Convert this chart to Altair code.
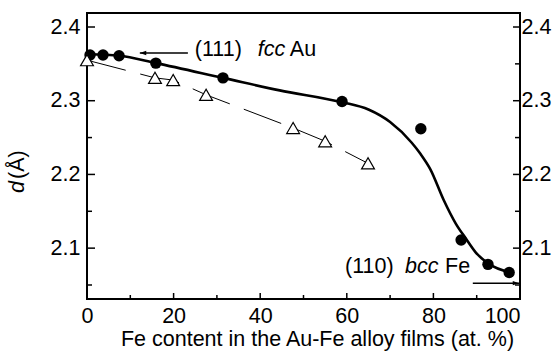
import altair as alt
import pandas as pd

# Au-Fe alloy films: (111)/(110) lattice spacing d vs Fe content
fe_circles = [0.7, 3.7, 7.4, 15.9, 31.4, 58.9, 77.1, 86.4, 92.6, 97.5]
d_circles = [2.362, 2.362, 2.361, 2.351, 2.331, 2.299, 2.262, 2.111, 2.078, 2.067]

fe_triangles = [0.0, 15.7, 19.9, 27.5, 47.6, 55.0, 64.9]
d_triangles = [2.355, 2.331, 2.328, 2.308, 2.263, 2.245, 2.215]

# smooth guide curve through the filled-circle series
fit_fe = [0.3, 7.4, 15.9, 31.4, 44.5, 58.9, 65.0, 70.0, 75.0, 77.0, 79.3,
          82.4, 85.2, 87.5, 89.8, 92.7, 97.8]
fit_d = [2.363, 2.361, 2.351, 2.331, 2.314, 2.298, 2.288, 2.271, 2.243, 2.228,
         2.207, 2.165, 2.133, 2.113, 2.094, 2.079, 2.067]

x_major = [0, 20, 40, 60, 80, 100]
x_minor = [10, 30, 50, 70, 90]
y_major = [2.1, 2.2, 2.3, 2.4]
y_minor = [2.05, 2.15, 2.25, 2.35]

# annotation anchors (data units)
fcc_text = (24.9, 2.3606)
fcc_arrow_x = [12.2, 23.3]
fcc_arrow_y = 2.3647
bcc_text = (59.6, 2.0661)
bcc_arrow_x = [89.1, 99.8]
bcc_arrow_y = 2.0525

W, H = 433, 286
FONT = "Liberation Sans"
FS = 21.5

xs = alt.Scale(domain=[0, 100], nice=False, zero=False)
ys = alt.Scale(domain=[2.031, 2.419], nice=False, zero=False)

x_axis = alt.Axis(
    values=x_major, format="d", tickSize=0, ticks=False, domain=False, grid=False,
    labelPadding=6, labelFlush=False,
    labelAlign={"condition": {"test": "datum.value == 100", "value": "right"}, "value": "center"},
    title="Fe content in the Au-Fe alloy films (at. %)",
    titleX=230, titleY=46, titleAlign="center", titleBaseline="alphabetic",
)
y_left = alt.Axis(values=y_major, format=".1f", orient="left", tickSize=0, ticks=False,
                  domain=False, grid=False, labelPadding=7, title=None)
y_right = alt.Axis(values=y_major, format=".1f", orient="right", tickSize=0, ticks=False,
                   domain=False, grid=False, labelPadding=1, title=None)


def X():
    return alt.X("x:Q", scale=xs, axis=x_axis)


def Y(axis=None):
    return alt.Y("y:Q", scale=ys, axis=axis)


fit_df = pd.DataFrame({"x": fit_fe, "y": fit_d})
circ_df = pd.DataFrame({"x": fe_circles, "y": d_circles})
tri_df = pd.DataFrame({"x": fe_triangles, "y": d_triangles})

fit_line = alt.Chart(fit_df).mark_line(
    color="black", strokeWidth=2.6, interpolate="monotone"
).encode(x=X(), y=Y())

circles = alt.Chart(circ_df).mark_circle(size=130, color="black", opacity=1).encode(x=X(), y=Y())

tri_line = alt.Chart(tri_df).mark_line(
    color="black", strokeWidth=1, strokeDash=[40, 15]
).encode(x=X(), y=Y())

triangles = alt.Chart(tri_df).mark_point(
    shape="triangle-up", filled=True, fill="white", stroke="black",
    strokeWidth=1.2, size=165, opacity=1
).encode(x=X(), y=Y())

# inward tick marks on the frame
xmaj_df = pd.DataFrame({"x": x_major})
xmin_df = pd.DataFrame({"x": x_minor})
ymaj_df = pd.DataFrame({"y": y_major})
ymin_df = pd.DataFrame({"y": y_minor})

tick_style = dict(color="black", strokeWidth=1.5)
bottom_major = alt.Chart(xmaj_df).mark_rule(**tick_style).encode(
    x=X(), y=alt.value(H - 6), y2=alt.value(H))
bottom_minor = alt.Chart(xmin_df).mark_rule(**tick_style).encode(
    x=X(), y=alt.value(H - 4), y2=alt.value(H))
left_major = alt.Chart(ymaj_df).mark_rule(**tick_style).encode(
    y=Y(y_left), x=alt.value(0), x2=alt.value(8))
left_minor = alt.Chart(ymin_df).mark_rule(**tick_style).encode(
    y=Y(), x=alt.value(0), x2=alt.value(5))
right_major = alt.Chart(ymaj_df).mark_rule(**tick_style).encode(
    y=Y(y_right), x=alt.value(W - 7), x2=alt.value(W))
right_minor = alt.Chart(ymin_df).mark_rule(**tick_style).encode(
    y=Y(), x=alt.value(W - 5), x2=alt.value(W))

# annotations
fcc_pt = pd.DataFrame({"x": [fcc_text[0]], "y": [fcc_text[1]]})
bcc_pt = pd.DataFrame({"x": [bcc_text[0]], "y": [bcc_text[1]]})
txt = dict(font=FONT, fontSize=FS, align="left", baseline="alphabetic", color="black")


def label(df, text, dx, italic=False):
    style = dict(txt)
    if italic:
        style["fontStyle"] = "italic"
    return alt.Chart(df).mark_text(text=text, dx=dx, **style).encode(x=X(), y=Y())


fcc_labels = [label(fcc_pt, "(111)", 0), label(fcc_pt, "fcc", 63, True), label(fcc_pt, "Au", 95)]
bcc_labels = [label(bcc_pt, "(110)", 0), label(bcc_pt, "bcc", 60, True), label(bcc_pt, "Fe", 100)]

fcc_arrow_df = pd.DataFrame({"x": fcc_arrow_x, "y": [fcc_arrow_y] * 2})
bcc_arrow_df = pd.DataFrame({"x": bcc_arrow_x, "y": [bcc_arrow_y] * 2})

fcc_shaft = alt.Chart(fcc_arrow_df).mark_line(color="black", strokeWidth=1.5).encode(x=X(), y=Y())
bcc_shaft = alt.Chart(bcc_arrow_df).mark_line(color="black", strokeWidth=1.5).encode(x=X(), y=Y())

fcc_head = alt.Chart(fcc_arrow_df.head(1)).mark_point(
    shape="M0,0L1.6,-0.55L1.6,0.55Z", filled=True, color="black", size=64, opacity=1
).encode(x=X(), y=Y())
bcc_head = alt.Chart(bcc_arrow_df.tail(1)).mark_point(
    shape="M0,0L-1.6,-0.55L-1.6,0.55Z", filled=True, color="black", size=64, opacity=1
).encode(x=X(), y=Y())

# y axis title: italic d followed by (Å), reading upward
one = pd.DataFrame({"k": [0]})
ytitle_d = alt.Chart(one).mark_text(
    text="d", angle=270, fontStyle="italic", **txt
).encode(x=alt.value(-63), y=alt.value(180))
ytitle_unit = alt.Chart(one).mark_text(
    text="(Å)", angle=270, **txt
).encode(x=alt.value(-63), y=alt.value(166))

chart = alt.layer(
    bottom_major, bottom_minor, left_major, left_minor, right_major, right_minor,
    fit_line, circles, tri_line, triangles,
    fcc_shaft, fcc_head, bcc_shaft, bcc_head,
    *fcc_labels, *bcc_labels, ytitle_d, ytitle_unit,
).resolve_axis(y="independent").properties(
    width=W, height=H,
    autosize=alt.AutoSizeParams(type="none"),
    padding={"left": 87, "top": 13, "right": 35, "bottom": 63},
    background="white",
).configure_view(
    stroke="black", strokeWidth=2
).configure_axis(
    labelFont=FONT, labelFontSize=FS, labelColor="black",
    titleFont=FONT, titleFontSize=FS, titleFontWeight="normal", titleColor="black",
)

chart.save("out.html", embed_options={"renderer": "svg", "actions": False})
